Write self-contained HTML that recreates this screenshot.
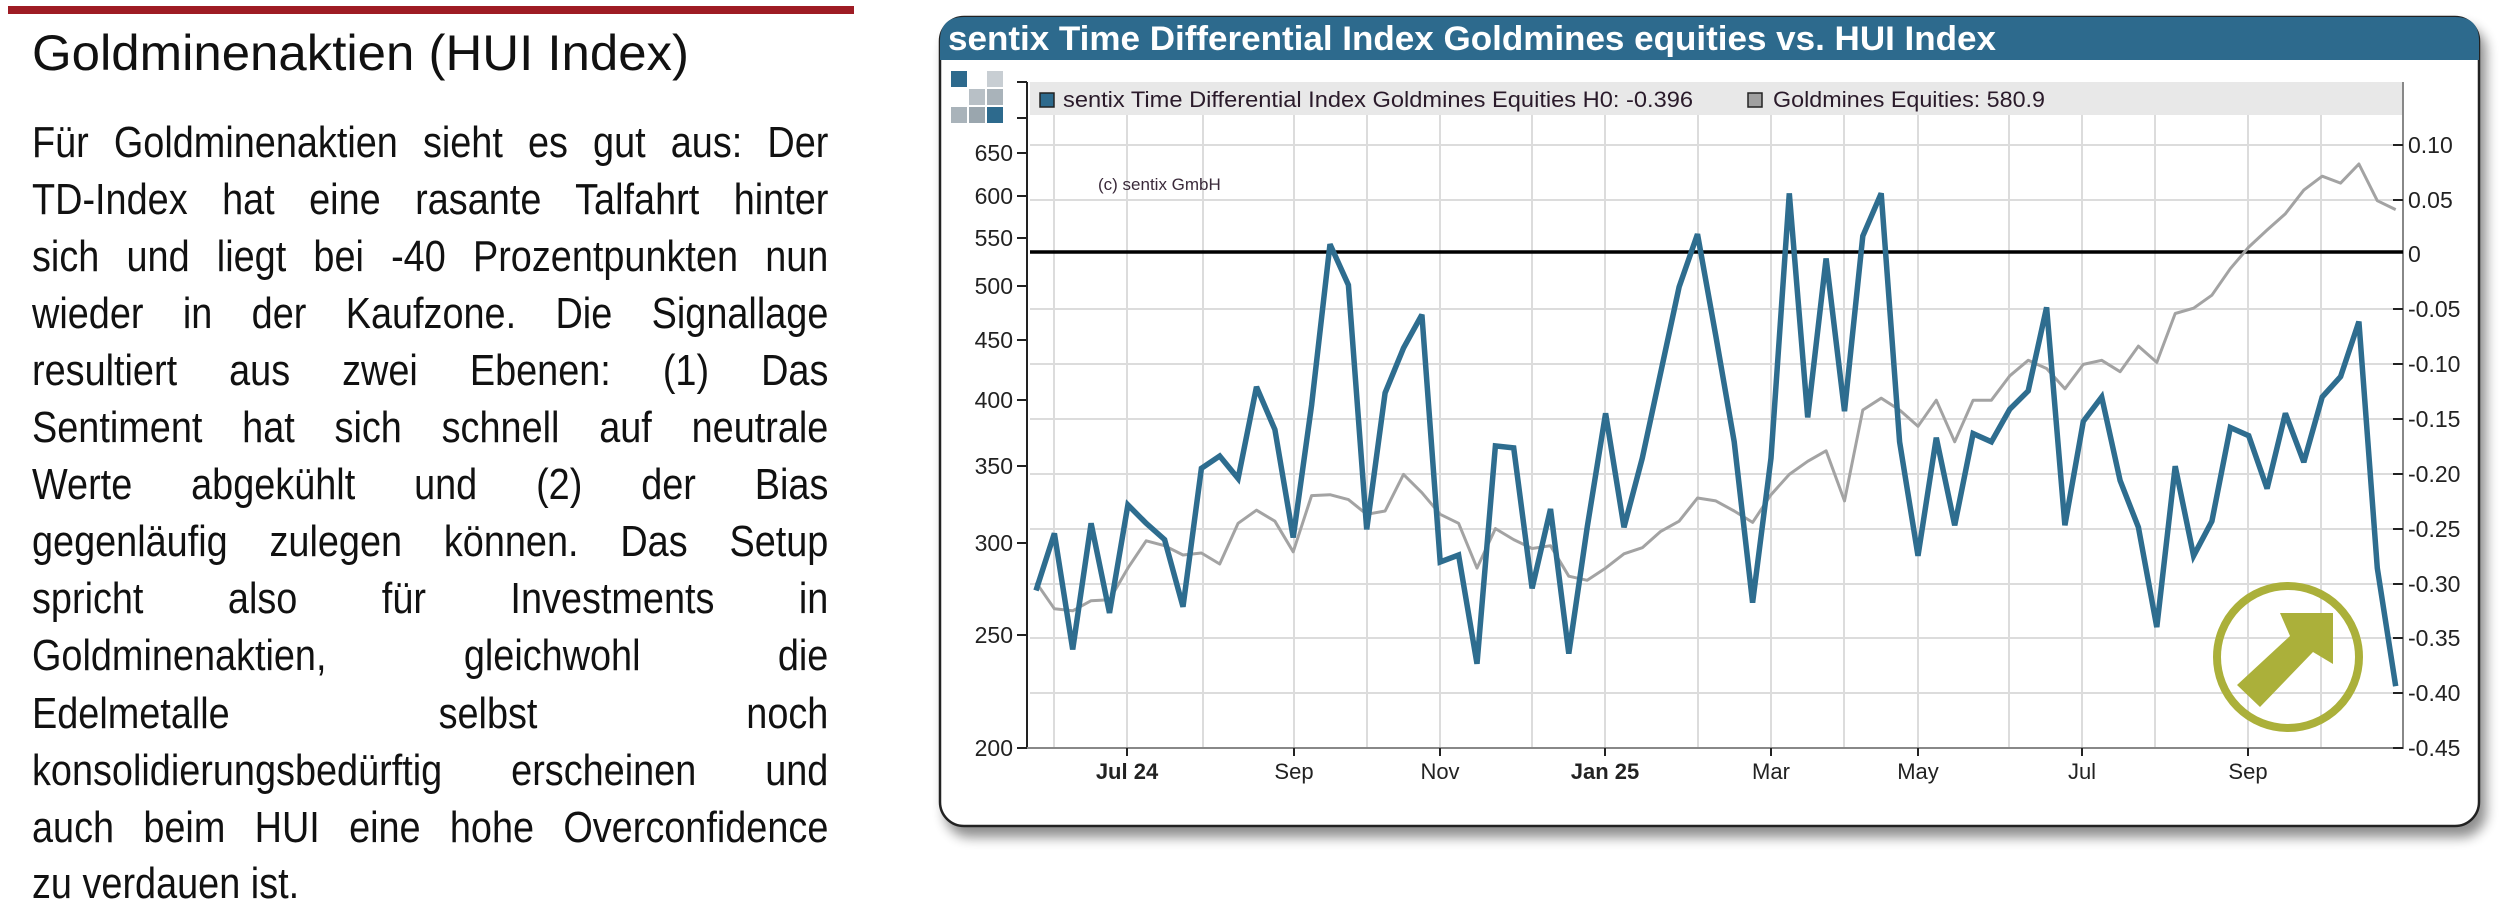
<!DOCTYPE html>
<html><head><meta charset="utf-8">
<style>
html,body{margin:0;padding:0;background:#fff;}
body{width:2500px;height:893px;position:relative;overflow:hidden;font-family:"Liberation Sans",sans-serif;}
.ln{position:absolute;left:32px;width:926px;transform:scaleX(0.86);transform-origin:0 0;font-size:44px;line-height:57px;white-space:nowrap;text-align:justify;text-align-last:justify;color:#111;}
</style></head><body>
<div style="position:absolute;left:8px;top:6px;width:846px;height:8px;background:#9e1c24"></div>
<div class="ln" style="top:114px">Für Goldminenaktien sieht es gut aus: Der</div>
<div class="ln" style="top:171px">TD-Index hat eine rasante Talfahrt hinter</div>
<div class="ln" style="top:228px">sich und liegt bei -40 Prozentpunkten nun</div>
<div class="ln" style="top:285px">wieder in der Kaufzone. Die Signallage</div>
<div class="ln" style="top:342px">resultiert aus zwei Ebenen: (1) Das</div>
<div class="ln" style="top:399px">Sentiment hat sich schnell auf neutrale</div>
<div class="ln" style="top:456px">Werte abgekühlt und (2) der Bias</div>
<div class="ln" style="top:513px">gegenläufig zulegen können. Das Setup</div>
<div class="ln" style="top:570px">spricht also für Investments in</div>
<div class="ln" style="top:627px">Goldminenaktien, gleichwohl die</div>
<div class="ln" style="top:685px">Edelmetalle selbst noch</div>
<div class="ln" style="top:742px">konsolidierungsbedürftig erscheinen und</div>
<div class="ln" style="top:799px">auch beim HUI eine hohe Overconfidence</div>
<div class="ln" style="top:855px;text-align:left;text-align-last:left">zu verdauen ist.</div>

<svg width="2500" height="893" style="position:absolute;left:0;top:0" xmlns="http://www.w3.org/2000/svg" font-family="Liberation Sans, sans-serif">
<defs>
<filter id="sh" x="-5%" y="-5%" width="110%" height="115%"><feGaussianBlur in="SourceAlpha" stdDeviation="6"/><feOffset dx="6" dy="10"/><feComponentTransfer><feFuncA type="linear" slope="0.45"/></feComponentTransfer><feMerge><feMergeNode/><feMergeNode in="SourceGraphic"/></feMerge></filter>
</defs>
<text x="32" y="70" font-size="50" fill="#111" textLength="657" lengthAdjust="spacingAndGlyphs">Goldminenaktien (HUI Index)</text>

<rect x="940" y="17" width="1539" height="809" rx="24" fill="#fff" stroke="#222" stroke-width="2.5" filter="url(#sh)"/>
<path d="M940,60 V41 Q940,17 964,17 H2455 Q2479,17 2479,41 V60 Z" fill="#2d6a8d"/>
<text x="948" y="50" font-size="34" font-weight="bold" fill="#fff" textLength="1048" lengthAdjust="spacingAndGlyphs">sentix Time Differential Index Goldmines equities vs. HUI Index</text>

<g>
<rect x="951" y="71" width="16" height="16" fill="#2d6a8d"/>
<rect x="987" y="71" width="16" height="16" fill="#c8ced3"/>
<rect x="969" y="89" width="16" height="16" fill="#b8c0c6"/>
<rect x="987" y="89" width="16" height="16" fill="#a9b3ba"/>
<rect x="951" y="107" width="16" height="16" fill="#a9b3ba"/>
<rect x="969" y="107" width="16" height="16" fill="#9aa6ae"/>
<rect x="987" y="107" width="16" height="16" fill="#2d6a8d"/>
</g>

<g stroke="#dcdcdc" stroke-width="2">
<line x1="1054" y1="115" x2="1054" y2="748"/><line x1="1127" y1="115" x2="1127" y2="748"/><line x1="1203" y1="115" x2="1203" y2="748"/><line x1="1294" y1="115" x2="1294" y2="748"/><line x1="1367" y1="115" x2="1367" y2="748"/><line x1="1440" y1="115" x2="1440" y2="748"/><line x1="1532" y1="115" x2="1532" y2="748"/><line x1="1605" y1="115" x2="1605" y2="748"/><line x1="1698" y1="115" x2="1698" y2="748"/><line x1="1771" y1="115" x2="1771" y2="748"/><line x1="1844" y1="115" x2="1844" y2="748"/><line x1="1918" y1="115" x2="1918" y2="748"/><line x1="2009" y1="115" x2="2009" y2="748"/><line x1="2082" y1="115" x2="2082" y2="748"/><line x1="2155" y1="115" x2="2155" y2="748"/><line x1="2248" y1="115" x2="2248" y2="748"/><line x1="2321" y1="115" x2="2321" y2="748"/>
<line x1="1030" y1="145" x2="2403" y2="145"/><line x1="1030" y1="200" x2="2403" y2="200"/><line x1="1030" y1="309" x2="2403" y2="309"/><line x1="1030" y1="364" x2="2403" y2="364"/><line x1="1030" y1="419" x2="2403" y2="419"/><line x1="1030" y1="474" x2="2403" y2="474"/><line x1="1030" y1="529" x2="2403" y2="529"/><line x1="1030" y1="584" x2="2403" y2="584"/><line x1="1030" y1="638" x2="2403" y2="638"/><line x1="1030" y1="693" x2="2403" y2="693"/>
</g>
<rect x="1030" y="82" width="1373" height="33" fill="#e8e8e8"/>
<rect x="1040" y="93" width="14" height="14" fill="#2d6a8d" stroke="#222" stroke-width="1.5"/>
<text x="1063" y="107" font-size="22" fill="#2a1a2a" textLength="630" lengthAdjust="spacingAndGlyphs">sentix Time Differential Index Goldmines Equities H0: -0.396</text>
<rect x="1748" y="93" width="14" height="14" fill="#a0a0a0" stroke="#222" stroke-width="1.5"/>
<text x="1773" y="107" font-size="22" fill="#2a1a2a" textLength="272" lengthAdjust="spacingAndGlyphs">Goldmines Equities: 580.9</text>

<text x="1098" y="190" font-size="17" fill="#3a2a3a">(c) sentix GmbH</text>

<line x1="1027" y1="82" x2="1027" y2="749" stroke="#222" stroke-width="2"/>
<line x1="1027" y1="748" x2="2404" y2="748" stroke="#888" stroke-width="2"/>
<line x1="2403" y1="82" x2="2403" y2="749" stroke="#888" stroke-width="2"/>
<g stroke="#222" stroke-width="2">
<line x1="1017" y1="153" x2="1027" y2="153"/><line x1="1017" y1="196" x2="1027" y2="196"/><line x1="1017" y1="238" x2="1027" y2="238"/><line x1="1017" y1="286" x2="1027" y2="286"/><line x1="1017" y1="340" x2="1027" y2="340"/><line x1="1017" y1="400" x2="1027" y2="400"/><line x1="1017" y1="466" x2="1027" y2="466"/><line x1="1017" y1="543" x2="1027" y2="543"/><line x1="1017" y1="635" x2="1027" y2="635"/><line x1="1017" y1="748" x2="1027" y2="748"/><line x1="1017" y1="118" x2="1027" y2="118"/><line x1="1017" y1="82" x2="1027" y2="82"/>
<line x1="2393" y1="145" x2="2403" y2="145"/><line x1="2393" y1="200" x2="2403" y2="200"/><line x1="2393" y1="309" x2="2403" y2="309"/><line x1="2393" y1="364" x2="2403" y2="364"/><line x1="2393" y1="419" x2="2403" y2="419"/><line x1="2393" y1="474" x2="2403" y2="474"/><line x1="2393" y1="529" x2="2403" y2="529"/><line x1="2393" y1="584" x2="2403" y2="584"/><line x1="2393" y1="638" x2="2403" y2="638"/><line x1="2393" y1="693" x2="2403" y2="693"/><line x1="2393" y1="748" x2="2403" y2="748"/>
<line x1="1127" y1="748" x2="1127" y2="756"/><line x1="1294" y1="748" x2="1294" y2="756"/><line x1="1440" y1="748" x2="1440" y2="756"/><line x1="1605" y1="748" x2="1605" y2="756"/><line x1="1771" y1="748" x2="1771" y2="756"/><line x1="1918" y1="748" x2="1918" y2="756"/><line x1="2082" y1="748" x2="2082" y2="756"/><line x1="2248" y1="748" x2="2248" y2="756"/>
</g>
<g font-size="23" fill="#222" text-anchor="end">
<text x="1013" y="161">650</text><text x="1013" y="204">600</text><text x="1013" y="246">550</text><text x="1013" y="294">500</text><text x="1013" y="348">450</text><text x="1013" y="408">400</text><text x="1013" y="474">350</text><text x="1013" y="551">300</text><text x="1013" y="643">250</text><text x="1013" y="756">200</text>
</g>
<g font-size="23" fill="#222">
<text x="2408" y="153">0.10</text><text x="2408" y="208">0.05</text><text x="2408" y="262">0</text><text x="2408" y="317">-0.05</text><text x="2408" y="372">-0.10</text><text x="2408" y="427">-0.15</text><text x="2408" y="482">-0.20</text><text x="2408" y="537">-0.25</text><text x="2408" y="592">-0.30</text><text x="2408" y="646">-0.35</text><text x="2408" y="701">-0.40</text><text x="2408" y="756">-0.45</text>
</g>
<g font-size="22" fill="#222" text-anchor="middle">
<text x="1127" y="779" font-weight="bold">Jul 24</text><text x="1294" y="779">Sep</text><text x="1440" y="779">Nov</text><text x="1605" y="779" font-weight="bold">Jan 25</text><text x="1771" y="779">Mar</text><text x="1918" y="779">May</text><text x="2082" y="779">Jul</text><text x="2248" y="779">Sep</text>
</g>

<line x1="1030" y1="252" x2="2403" y2="252" stroke="#000" stroke-width="3.5"/>

<polyline fill="none" stroke="#a3a3a3" stroke-width="3" stroke-linejoin="round" points="1036,582.3 1054.4,608.8 1072.7,610.8 1091.1,600.7 1109.5,599.8 1127.9,568.1 1146.2,540.8 1164.6,545.7 1183,555 1201.4,553 1219.7,564 1238.1,523.3 1256.5,510.2 1274.9,521.2 1293.2,551.8 1311.6,495.6 1330,494.7 1348.4,499.6 1366.7,514.3 1385.1,511 1403.5,474.4 1421.9,492.7 1440.2,514.3 1458.6,523.3 1477,568.1 1495.4,528.6 1513.7,539.6 1532.1,548.5 1550.5,545.7 1568.8,576.2 1587.2,580.3 1605.6,568.1 1624,553.8 1642.3,547.7 1660.7,531.4 1679.1,521.2 1697.5,498 1715.8,500.9 1734.2,511 1752.6,522.4 1771,494.7 1789.3,474.4 1807.7,461.3 1826.1,450.8 1844.5,500.9 1862.8,410 1881.2,398.2 1899.6,410 1918,426.3 1936.3,400.2 1954.7,441.8 1973.1,400.2 1991.4,400.2 2009.8,375.8 2028.2,360.3 2046.6,368.5 2064.9,388.8 2083.3,364.4 2101.7,360.3 2120.1,371.7 2138.4,346.1 2156.8,362.4 2175.2,313.5 2193.6,308.2 2211.9,295.2 2230.3,268.7 2248.7,247.1 2267.1,230 2285.4,213.7 2303.8,190.1 2322.2,176.2 2340.6,183.1 2358.9,164 2377.3,200.7 2395.7,209.6"/>

<polyline fill="none" stroke="#2e6d8f" stroke-width="5.5" stroke-linejoin="miter" stroke-miterlimit="3" points="1036,590.5 1054.4,533.4 1072.7,649.5 1091.1,523.3 1109.5,612.9 1127.9,504.9 1146.2,523.3 1164.6,539.6 1183,606.8 1201.4,468.3 1219.7,456 1238.1,478.5 1256.5,386.8 1274.9,429.6 1293.2,537.5 1311.6,405.1 1330,244.2 1348.4,285 1366.7,529.4 1385.1,392.9 1403.5,348.1 1421.9,314.7 1440.2,562 1458.6,555 1477,663.8 1495.4,445.9 1513.7,447.9 1532.1,588.4 1550.5,509 1568.8,653.6 1587.2,527.3 1605.6,413.3 1624,527.3 1642.3,458.1 1660.7,372.5 1679.1,287 1697.5,234.1 1715.8,335.9 1734.2,441.8 1752.6,602.7 1771,458.1 1789.3,193.3 1807.7,417.4 1826.1,258.5 1844.5,411.2 1862.8,236.1 1881.2,193.3 1899.6,441.8 1918,555.8 1936.3,437.7 1954.7,525.3 1973.1,433.6 1991.4,441.8 2009.8,409.2 2028.2,390.9 2046.6,307.4 2064.9,525.3 2083.3,421.4 2101.7,397 2120.1,480.5 2138.4,527.3 2156.8,627.1 2175.2,466.2 2193.6,555.8 2211.9,521.2 2230.3,427.5 2248.7,435.7 2267.1,488.6 2285.4,413.3 2303.8,462.2 2322.2,397 2340.6,376.6 2358.9,321.6 2377.3,568.1 2395.7,686.2"/>

<ellipse cx="2288" cy="657" rx="71" ry="71" fill="none" stroke="#abb03a" stroke-width="8"/>
<polygon points="2237,685 2290,636 2280,613 2333,613 2333,664 2313,652 2260,707" fill="#abb03a"/>
</svg>
</body></html>
